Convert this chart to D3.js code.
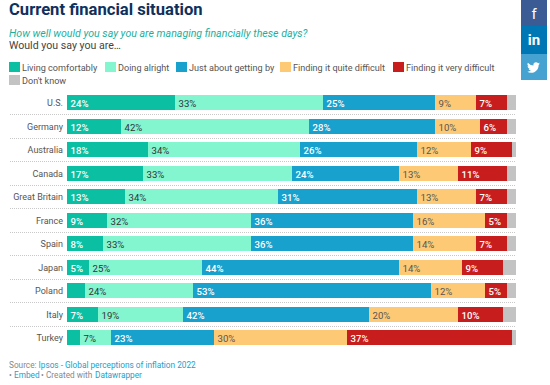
<!DOCTYPE html>
<html><head><meta charset="utf-8">
<style>html,body{margin:0;padding:0;background:#fff;overflow:hidden}svg{display:block}text{font-family:Roboto,sans-serif}</style>
<script src="https://cdn.jsdelivr.net/npm/d3@7"></script></head>
<body><svg id="c" width="550" height="385"></svg>
<script>
const countries=["U.S.","Germany","Australia","Canada","Great Britain","France","Spain","Japan","Poland","Italy","Turkey"];
const seriesNames=["Living comfortably","Doing alright","Just about getting by","Finding it quite difficult","Finding it very difficult","Don't know"];
const seriesColors=["#0bbfa3","#83f6cf","#18a1cd","#fec975","#c71e1d","#c3c3c3"];
const labelColors=["#fff","#333","#fff","#555","#fff","#333"];
const livingComfortably=[24,12,18,17,13,9,8,5,4,6.9,2.9];
const doingAlright=[33,42,34,33,34,32,33,25,24,18.9,6.9];
const gettingBy=[25,28,26,24,31,36,36,44,53,41.5,22.9];
const quiteDifficult=[9,10,12,13,13,16,14,14,12,19.8,29.6];
const veryDifficult=[7,6,9,11,7,5,7,9,5,10,36.8];
const dontKnow=[2,2,1,2,2,2,2,3,2,3,1];
const hiddenLabels=[["Poland",0],["Turkey",0]];
const seriesValues=[livingComfortably,doingAlright,gettingBy,quiteDifficult,veryDifficult,dontKnow];

const svg=d3.select("#c");
const x=d3.scaleLinear().domain([0,100]).range([67,516]);
const y=d3.scaleBand().domain(countries).range([95,345]).paddingInner(8.5/23.5);

// heading
svg.append("text").attr("x",9).attr("y",15).attr("font-size",16.6).attr("font-weight",700).attr("fill","#10305c").text("Current financial situation");
svg.append("text").attr("x",9).attr("y",37).attr("font-size",10.6).attr("font-style","italic").attr("fill","#1ab0a0").text("How well would you say you are managing financially these days?");
svg.append("text").attr("x",9).attr("y",49).attr("font-size",10.6).attr("fill","#444").text("Would you say you are…");

// legend
const legendX=[9,105,176,280,393,9], legendY=[62,62,62,62,62,75];
seriesNames.forEach((n,i)=>{
  svg.append("rect").attr("x",legendX[i]).attr("y",legendY[i]).attr("width",11).attr("height",10).attr("fill",seriesColors[i]);
  svg.append("text").attr("x",legendX[i]+13).attr("y",legendY[i]+9).attr("font-size",9.1).attr("fill","#555").text(n);
});

// separators
countries.slice(0,-1).forEach(c=>{
  const yy=Math.round(y(c))+19.5;
  svg.append("line").attr("x1",10).attr("x2",516).attr("y1",yy).attr("y2",yy).attr("stroke","#c8c8c8").attr("stroke-dasharray","1 1");
});

// bars
countries.forEach((c,ci)=>{
  let cum=0; const by=Math.round(y(c));
  svg.append("text").attr("x",63).attr("y",by+10.5).attr("text-anchor","end").attr("font-size",9).attr("fill","#555").text(c);
  seriesValues.forEach((vals,si)=>{
    const v=vals[ci], x0=Math.round(x(cum)), x1=Math.round(x(cum+v));
    svg.append("rect").attr("x",x0).attr("y",by).attr("width",x1-x0).attr("height",15).attr("fill",seriesColors[si]);
    const hidden=hiddenLabels.some(h=>h[0]===c&&h[1]===si);
    if(si<5&&!hidden){
      svg.append("text").attr("x",x0+3.5).attr("y",by+11.5).attr("font-size",9.6)
        .attr("font-weight",(si===0||si===2||si===4)?500:400).attr("fill",labelColors[si]).text(d3.format(".0f")(v)+"%");
    }
    cum+=v;
  });
});

// footer
const footerLinks="#18a1cd", footerGrey="#888";
const footer=[["Source: ",9,368,footerGrey],["Ipsos - Global perceptions of inflation 2022",38.5,368,footerLinks],["•",9,378,footerGrey],["Embed",14,378,footerLinks],["•",41,378,footerGrey],["Created with",46,378,footerGrey],["Datawrapper",95,378,footerLinks]];
footer.forEach(f=>svg.append("text").attr("x",f[1]).attr("y",f[2]).attr("font-size",8.25).attr("fill",f[3]).text(f[0]));

// social
const socialColors=["#3b5b95","#0077b5","#46a2d0"], socialGlyphs=["f","in",""], socialTop=[0,26,54], socialH=[26,28,26];
socialColors.forEach((col,i)=>{
  svg.append("rect").attr("x",521).attr("y",socialTop[i]).attr("width",26).attr("height",socialH[i]).attr("fill",col);
  if(socialGlyphs[i]) svg.append("text").attr("x",534).attr("y",socialTop[i]+19).attr("text-anchor","middle").attr("font-size",15).attr("fill","#fff").attr("font-family","Open Sans").attr("font-weight",i?700:400).text(socialGlyphs[i]);
});
svg.append("path").attr("transform","translate(527,61) scale(0.54)").attr("fill","#fff")
 .attr("d","M24 4.6a10 10 0 0 1-2.8.8 5 5 0 0 0 2.2-2.7 10 10 0 0 1-3.1 1.2 4.9 4.9 0 0 0-8.4 4.5A14 14 0 0 1 1.7 3.2a4.9 4.9 0 0 0 1.5 6.6 4.900 4.900 0 0 1-2.200-.6 4.900 4.900 0 0 0 3.900 4.900 5 5 0 0 1-2.200.1 4.900 4.900 0 0 0 4.600 3.400A10 10 0 0 1 0 19.600 14 14 0 0 0 7.500 21.800c9.100 0 14.300-7.700 14-14.600A10 10 0 0 0 24 4.600z");
</script></body></html>
